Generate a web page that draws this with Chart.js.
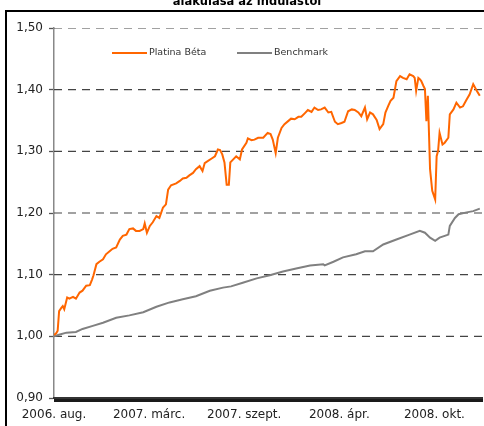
<!DOCTYPE html>
<html>
<head>
<meta charset="utf-8">
<script src="https://cdn.jsdelivr.net/npm/chart.js@4.4.1/dist/chart.umd.min.js"></script>
<style>
  body { margin: 0; background: #fff; }
</style>
</head>
<body>
<canvas id="chart1" width="484" height="426"></canvas>
<script>
// kereskedési napok az indulástól
const platinaDays = [0, 3, 5, 7, 10, 12, 14, 18, 21, 26, 30, 35, 39, 44, 49, 52, 54, 58, 62, 67,
  71, 76, 80, 85, 90, 94, 99, 103, 108, 112, 117, 122, 124, 127, 131, 135, 140, 144, 149, 153,
  156, 160, 167, 172, 176, 181, 185, 190, 194, 199, 203, 206, 210, 215, 220, 224, 227, 230, 233, 236,
  239, 241, 245, 249, 254, 257, 263, 265, 270, 274, 279, 286, 292, 296, 299, 303, 306, 311, 315, 320,
  324, 329, 334, 338, 343, 347, 352, 356, 361, 365, 370, 375, 379, 384, 388, 393, 397, 402, 407, 411,
  416, 420, 425, 428, 432, 436, 441, 445, 450, 453, 457, 460, 464, 468, 473, 477, 482, 486, 491, 493,
  495, 498, 500, 502, 505, 507, 509, 511, 514, 517, 521, 523, 525, 527, 531, 534, 539, 541, 546, 550,
  555, 559, 564, 568, 573, 578, 582];
const platina = [1.002, 1.005, 1.009, 1.041, 1.046, 1.049, 1.044, 1.063, 1.061, 1.064, 1.061, 1.071, 1.074, 1.082, 1.083, 1.092, 1.099, 1.117, 1.121, 1.125,
  1.133, 1.138, 1.142, 1.144, 1.157, 1.163, 1.165, 1.174, 1.175, 1.171, 1.171, 1.174, 1.183, 1.168, 1.179, 1.185, 1.195, 1.192, 1.209, 1.214,
  1.238, 1.245, 1.248, 1.252, 1.256, 1.257, 1.261, 1.265, 1.271, 1.276, 1.268, 1.281, 1.284, 1.288, 1.292, 1.303, 1.302, 1.295, 1.282, 1.246,
  1.246, 1.282, 1.287, 1.292, 1.287, 1.303, 1.314, 1.321, 1.318, 1.319, 1.322, 1.322, 1.330, 1.328, 1.319, 1.297, 1.322, 1.338, 1.344, 1.349,
  1.353, 1.352, 1.356, 1.356, 1.362, 1.367, 1.364, 1.371, 1.367, 1.368, 1.371, 1.363, 1.364, 1.348, 1.344, 1.346, 1.348, 1.365, 1.368, 1.367,
  1.363, 1.357, 1.371, 1.352, 1.363, 1.360, 1.351, 1.336, 1.344, 1.363, 1.374, 1.382, 1.387, 1.414, 1.422, 1.419, 1.417, 1.425, 1.422, 1.419,
  1.398, 1.419, 1.417, 1.414, 1.406, 1.401, 1.349, 1.390, 1.271, 1.236, 1.222, 1.292, 1.301, 1.330, 1.311, 1.314, 1.322, 1.360, 1.368, 1.379,
  1.371, 1.373, 1.384, 1.392, 1.409, 1.398, 1.390];

const benchDays = [0, 8, 17, 30, 39, 53, 67, 85, 103, 122, 140, 158, 176, 194, 213, 231, 242, 258, 277, 295,
  313, 331, 350, 368, 370, 382, 395, 413, 425, 436, 450, 468, 486, 500, 507, 514, 521, 527, 534, 539,
  541, 548, 553, 564, 573, 582];
const benchmark = [1.000, 1.003, 1.006, 1.007, 1.012, 1.017, 1.022, 1.030, 1.034, 1.039, 1.048, 1.055, 1.060, 1.065, 1.074, 1.079, 1.081, 1.087, 1.094, 1.099,
  1.105, 1.110, 1.115, 1.117, 1.115, 1.121, 1.128, 1.133, 1.138, 1.138, 1.149, 1.157, 1.165, 1.171, 1.168, 1.160, 1.155, 1.160, 1.163, 1.165,
  1.179, 1.192, 1.198, 1.201, 1.203, 1.207];

const xLabels = ['2006. aug.', '2007. márc.', '2007. szept.', '2008. ápr.', '2008. okt.'];
const xLabelStep = 130;
const xMax = 585;
const yTicks = [0.9, 1.0, 1.1, 1.2, 1.3, 1.4, 1.5];

const FONT = 'DejaVu Sans';

// szaggatott rácsvonalak külön (háttér) adatsorként
const gridSets = yTicks.map(v => ({
  label: '',
  data: [{ x: 0, y: v }, { x: xMax, y: v }],
  borderColor: '#444',
  borderWidth: 1.2,
  borderDash: [8, 6],
  pointRadius: 0,
  order: 10
}));

// cím (felül levágva) és keret
const framePlugin = {
  id: 'frame',
  afterDraw(chart) {
    const c = chart.ctx;
    c.save();
    c.font = 'bold 11.5px ' + FONT;
    c.fillStyle = '#000';
    c.textAlign = 'center';
    c.textBaseline = 'alphabetic';
    c.fillText('alakulása az indulástól', 247, 5);
    c.strokeStyle = '#000';
    c.lineWidth = 2;
    c.strokeRect(6, 11, 520, 500);
    c.restore();
  }
};

// jelmagyarázat a rajzterületen belül
const legendPlugin = {
  id: 'innerLegend',
  afterDatasetsDraw(chart) {
    const c = chart.ctx;
    const pos = [112, 237];
    c.save();
    c.font = '9.5px ' + FONT;
    c.textBaseline = 'middle';
    chart.data.datasets.slice(0, 2).forEach((ds, i) => {
      c.strokeStyle = ds.borderColor;
      c.lineWidth = 2;
      c.beginPath();
      c.moveTo(pos[i], 53);
      c.lineTo(pos[i] + 35, 53);
      c.stroke();
      c.fillStyle = '#333';
      c.fillText(ds.label, pos[i] + 37, 53);
    });
    c.restore();
  }
};

const ctx1 = document.getElementById('chart1').getContext('2d');
const myChart1 = new Chart(ctx1, {
  type: 'line',
  data: {
    datasets: [{
      label: 'Platina Béta',
      data: platinaDays.map((d, i) => ({ x: d, y: platina[i] })),
      borderColor: 'rgba(255, 102, 0, 1)',
      borderWidth: 2,
      pointRadius: 0,
      tension: 0,
      order: 1
    }, {
      label: 'Benchmark',
      data: benchDays.map((d, i) => ({ x: d, y: benchmark[i] })),
      borderColor: 'rgba(128, 128, 128, 1)',
      borderWidth: 2,
      pointRadius: 0,
      tension: 0,
      order: 2
    }, ...gridSets]
  },
  options: {
    responsive: false,
    animation: false,
    layout: { padding: { top: 28, right: 2, left: 0, bottom: 0 } },
    plugins: {
      legend: { display: false }
    },
    scales: {
      x: {
        type: 'linear',
        min: 0,
        max: xMax,
        afterBuildTicks: (scale) => {
          const t = [];
          for (let d = 0; d <= xMax; d++) t.push({ value: d });
          scale.ticks = t;
        },
        afterFit: (scale) => {
          scale.height = 28;
          scale.paddingLeft = 0;
          scale.paddingRight = 0;
        },
        ticks: {
          autoSkip: false,
          maxRotation: 0,
          padding: 6,
          color: '#222',
          font: { family: FONT, size: 12 },
          callback: (v) => (v % xLabelStep === 0 && xLabels[v / xLabelStep]) ? xLabels[v / xLabelStep] : ''
        },
        grid: {
          drawOnChartArea: false,
          tickLength: 4,
          tickWidth: 1,
          tickColor: '#1a1a1a'
        },
        border: { color: '#333', width: 2, z: 1 }
      },
      y: {
        min: 0.9,
        max: 1.5,
        afterBuildTicks: (scale) => { scale.ticks = yTicks.map(v => ({ value: v })); },
        afterFit: (scale) => { scale.width = 54; },
        ticks: {
          padding: 6,
          color: '#222',
          font: { family: FONT, size: 12 },
          callback: (v) => v.toFixed(2).replace('.', ',')
        },
        grid: {
          drawOnChartArea: false,
          tickLength: 5,
          tickWidth: 1.3,
          tickColor: '#555'
        },
        border: { color: '#888', width: 1.5 }
      }
    }
  },
  plugins: [framePlugin, legendPlugin]
});
</script>
</body>
</html>
